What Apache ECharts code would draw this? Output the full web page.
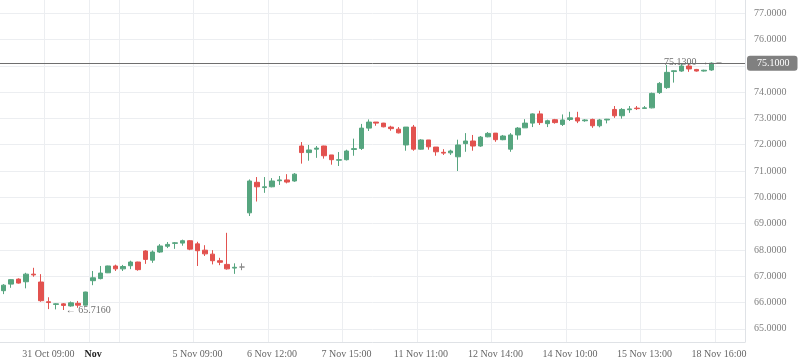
<!DOCTYPE html>
<html><head><meta charset="utf-8">
<script src="https://cdn.jsdelivr.net/npm/echarts@6/dist/echarts.min.js"></script>
<style>html,body{margin:0;padding:0;background:#fff}#c{width:798px;height:363px}</style>
</head><body><div id="c"></div>
<script>
// candle values (index 0..96), 3 empty slots at the right
const openV  = [66.45,66.70,66.89,66.79,67.08,66.78,66.03,65.93,65.95,65.87,65.97,65.90,66.83,66.91,67.13,67.39,67.28,67.40,67.54,67.96,67.61,67.92,68.14,68.25,68.26,68.35,68.23,67.99,67.84,67.59,67.45,67.31,67.35,69.41,70.57,70.37,70.40,70.63,70.66,70.62,71.95,71.70,71.83,71.95,71.61,71.41,71.43,71.82,71.86,72.63,72.86,72.82,72.67,72.59,71.99,72.67,71.83,72.18,71.91,71.71,71.69,71.54,72.04,72.14,71.95,72.30,72.44,72.19,71.83,72.37,72.64,72.82,73.17,72.80,72.95,72.77,72.96,73.02,72.91,72.96,72.72,72.94,73.34,73.10,73.33,73.39,73.38,73.40,73.98,74.17,74.78,74.80,74.99,74.86,74.80,74.84,75.10];
const highV  = [66.70,66.89,66.92,67.13,67.32,67.08,66.20,65.97,65.98,66.04,66.06,66.41,67.20,67.39,67.40,67.44,67.43,67.59,67.55,67.99,67.98,68.22,68.30,68.30,68.39,68.37,68.31,68.18,67.99,67.70,68.65,67.49,67.49,70.68,70.77,70.77,70.73,70.81,70.88,70.92,72.10,71.99,71.95,71.96,71.61,71.72,71.81,72.23,72.79,72.96,72.86,72.83,72.72,72.67,72.67,72.75,72.21,72.18,71.91,71.83,71.81,72.19,72.44,72.37,72.33,72.48,72.44,72.37,72.44,72.67,72.97,73.19,73.29,72.95,72.98,73.15,73.25,73.25,72.97,72.99,72.98,72.98,73.47,73.39,73.47,73.47,73.47,73.98,74.38,75.03,74.82,75.09,75.07,74.88,74.85,75.13,75.10];
const lowV   = [66.32,66.56,66.72,66.54,66.98,66.03,65.75,65.74,65.716,65.84,65.80,65.89,66.66,66.88,67.12,67.20,67.20,67.27,67.21,67.47,67.51,67.89,68.07,68.04,68.16,67.99,67.39,67.77,67.45,67.42,67.25,67.09,67.23,69.29,69.84,70.17,70.38,70.47,70.53,70.59,71.28,71.39,71.50,71.47,71.24,71.19,71.40,71.58,71.80,72.52,72.72,72.66,72.53,72.43,71.77,71.77,71.81,71.81,71.58,71.61,71.61,71.00,71.73,71.77,71.92,72.28,72.11,72.17,71.73,72.19,72.64,72.67,72.75,72.67,72.80,72.71,72.90,72.82,72.87,72.64,72.66,72.81,73.02,72.99,73.21,73.32,73.38,73.38,73.93,74.12,74.36,74.77,74.77,74.78,74.78,74.81,75.10];
const closeV = [66.66,66.87,66.74,67.08,67.05,66.07,66.00,65.95,65.89,65.99,65.90,66.40,66.94,67.12,67.39,67.28,67.37,67.54,67.25,67.64,67.92,68.15,68.21,68.27,68.35,68.03,67.97,67.85,67.59,67.53,67.28,67.34,67.35,70.62,70.40,70.40,70.62,70.66,70.58,70.88,71.70,71.80,71.87,71.58,71.43,71.43,71.76,71.85,72.63,72.86,72.82,72.68,72.61,72.45,72.67,71.83,72.18,71.92,71.73,71.68,71.76,71.99,72.14,71.95,72.29,72.43,72.19,72.33,72.37,72.63,72.82,73.17,72.84,72.91,72.84,72.94,73.02,72.90,72.94,72.72,72.94,72.97,73.10,73.34,73.36,73.37,73.40,73.95,74.33,74.75,74.81,74.99,74.88,74.80,74.83,75.10,75.10];
const slotCount = 100;
const tickIndex = [6, 12, 26, 36, 46, 56, 66, 76, 86, 96];
const tickText  = ['31 Oct 09:00', 'Nov', '5 Nov 09:00', '6 Nov 12:00', '7 Nov 15:00', '11 Nov 11:00', '12 Nov 14:00', '14 Nov 10:00', '15 Nov 13:00', '18 Nov 16:00'];
const gridIndex = [6, 12, 16, 26, 36, 46, 56, 66, 76, 86, 96];
const yTicks = [65, 66, 67, 68, 69, 70, 71, 72, 73, 74, 75, 76, 77];
const lastPrice = 75.10;

const categories = [];
for (let i = 0; i < slotCount; i++) categories.push(String(i));
const candles = openV.map((o, i) => [o, closeV[i], lowV[i], highV[i]]);
const labelMap = {};
tickIndex.forEach((k, j) => { labelMap[k] = tickText[j]; });

const FONT = 'Liberation Serif';
const FS = 10;
const chart = echarts.init(document.getElementById('c'));
chart.setOption({
  animation: false,
  backgroundColor: '#ffffff',
  grid: { left: 0, right: 53, top: 0, bottom: 21, containLabel: false },
  xAxis: {
    type: 'category', data: categories, boundaryGap: true,
    axisLine: { show: true, lineStyle: { color: '#dfe2e6' } },
    axisTick: { show: false },
    axisLabel: {
      interval: (idx) => labelMap[idx] !== undefined,
      formatter: (v, idx) => labelMap[idx] === 'Nov' ? '{m|Nov}' : (labelMap[idx] || ''),
      color: '#666666', fontFamily: FONT, fontSize: FS, margin: 7,
      rich: { m: { color: '#222', fontFamily: FONT, fontSize: FS, fontWeight: 'bold' } }
    },
    splitLine: { show: true, interval: (idx) => gridIndex.indexOf(idx) >= 0, lineStyle: { color: '#eceef1', width: 1 } }
  },
  yAxis: {
    type: 'value', position: 'right', min: 64.5, max: 77.5, scale: true,
    axisLine: { show: true, lineStyle: { color: '#dfe2e6' } },
    axisTick: { show: false, customValues: yTicks },
    axisLabel: { customValues: yTicks, formatter: (v) => v.toFixed(4), color: '#808080', fontFamily: FONT, fontSize: FS, margin: 9 },
    splitLine: { show: true, lineStyle: { color: '#eceef1', width: 1 } }
  },
  series: [{
    type: 'candlestick', data: candles, barWidth: 5,
    itemStyle: { color: '#56a57f', color0: '#e2524f', borderColor: '#56a57f', borderColor0: '#e2524f', borderColorDoji: '#8a8a8a', borderWidth: 1 },
    markPoint: {
      symbol: 'circle', symbolSize: 1, itemStyle: { color: 'rgba(0,0,0,0)' },
      label: { color: '#707070', fontFamily: FONT, fontSize: FS },
      data: [
        { type: 'max', valueDim: 'highest', label: { position: 'left', distance: 2, formatter: (p) => p.value.toFixed(4) + ' \u2192' } },
        { type: 'min', valueDim: 'lowest', label: { position: 'right', distance: 2, formatter: (p) => '\u2190 ' + p.value.toFixed(4) } }
      ]
    },
    markLine: {
      symbol: ['none', 'none'], silent: true,
      lineStyle: { color: '#6e6e6e', width: 1, type: 'solid' },
      label: { position: 'end', distance: 2, formatter: (p) => p.value.toFixed(4), color: '#fff', backgroundColor: '#808080', padding: [3, 8, 2, 10], borderRadius: 3, fontFamily: FONT, fontSize: FS },
      data: [{ yAxis: lastPrice }]
    }
  }]
});
</script></body></html>
